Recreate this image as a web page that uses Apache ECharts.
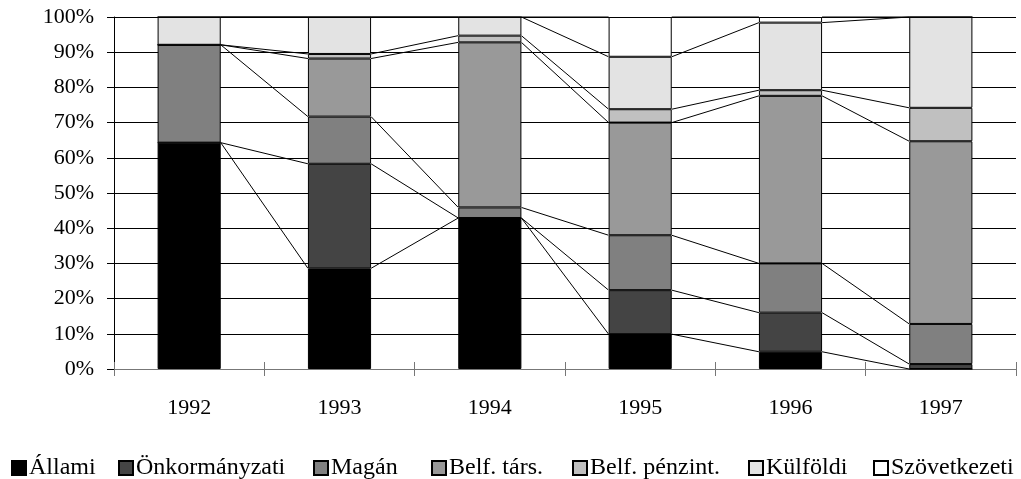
<!DOCTYPE html>
<html>
<head>
<meta charset="utf-8">
<script src="https://cdn.jsdelivr.net/npm/echarts@6/dist/echarts.min.js"></script>
<style>
html,body{margin:0;padding:0;background:#fff;}
#chart{width:1021px;height:479px;}
</style>
</head>
<body>
<div id="chart"></div>
<script>
// ---- data ----
const categories = ['1992', '1993', '1994', '1995', '1996', '1997'];
const seriesNames = ['Állami', 'Önkormányzati', 'Magán', 'Belf. társ.', 'Belf. pénzint.', 'Külföldi', 'Szövetkezeti'];
const allami        = [64.3, 28.6, 42.9,  9.9,  4.9,  0.0];
const onkormanyzati = [ 0.0, 29.7,  0.0, 12.5, 11.1,  1.4];
const magan         = [27.8, 13.4,  3.0, 15.6, 14.0, 11.4];
const belfTars      = [ 0.0, 16.5, 46.9, 32.0, 47.6, 51.9];
const belfPenzint   = [ 0.0,  1.3,  1.9,  3.8,  1.6,  9.5];
const kulfoldi      = [ 7.9, 10.5,  5.3, 14.9, 19.2, 25.8];
const szovetkezeti  = [ 0.0,  0.0,  0.0, 11.3,  1.6,  0.0];
const yTicks = [0, 10, 20, 30, 40, 50, 60, 70, 80, 90, 100];

// ---- build ----
const values = [allami, onkormanyzati, magan, belfTars, belfPenzint, kulfoldi, szovetkezeti];
const colors = ['#000000', '#444444', '#808080', '#999999', '#c0c0c0', '#e3e3e3', '#ffffff'];
const legendLeft = [11, 118, 313, 431, 572, 748, 873];
const BAR_FRAC = 0.42;
const FONT = 'Liberation Serif';

// cumulative tops
const cum = values.map(() => []);
for (let i = 0; i < categories.length; i++) {
  let acc = 0;
  for (let s = 0; s < values.length; s++) {
    acc += values[s][i];
    cum[s][i] = Math.round(acc * 100) / 100;
  }
}
const connectors = [];
for (let s = 0; s < values.length; s++) {
  for (let i = 0; i < categories.length - 1; i++) {
    connectors.push([i, cum[s][i], cum[s][i + 1]]);
  }
}

const series = seriesNames.map((n, s) => ({
  name: n,
  type: 'bar',
  stack: 'total',
  barWidth: (BAR_FRAC * 100) + '%',
  data: values[s],
  itemStyle: { color: colors[s], borderColor: '#000', borderWidth: 1 },
  emphasis: { disabled: true },
  z: 3
}));
series.push({
  name: 'connectors',
  type: 'custom',
  data: connectors,
  encode: { x: 0, y: [1, 2] },
  z: 4,
  silent: true,
  renderItem: function (params, api) {
    const i = api.value(0);
    const p1 = api.coord([i, api.value(1)]);
    const p2 = api.coord([i + 1, api.value(2)]);
    const hw = api.size([1, 0])[0] * BAR_FRAC / 2;
    return {
      type: 'line',
      shape: { x1: p1[0] + hw, y1: p1[1], x2: p2[0] - hw, y2: p2[1] },
      style: { stroke: '#000', lineWidth: 1 }
    };
  }
});

const option = {
  animation: false,
  backgroundColor: '#fff',
  grid: { left: 114, right: 5, top: 17, bottom: 110, containLabel: false },
  legend: seriesNames.map((n, k) => ({
    data: [n],
    left: legendLeft[k],
    top: 456,
    icon: 'rect',
    itemWidth: 14,
    itemHeight: 14,
    itemGap: 0,
    padding: 0,
    textStyle: { fontFamily: FONT, fontSize: 24, color: '#000', padding: [0, 0, 0, -2] },
    selectedMode: false
  })),
  xAxis: [{
    type: 'category',
    data: categories,
    axisLine: { lineStyle: { color: '#777', width: 1 } },
    axisTick: { show: true, length: 7, lineStyle: { color: '#777' } },
    axisLabel: { fontFamily: FONT, fontSize: 22, color: '#000', margin: 28 },
    splitLine: { show: false }
  }, {
    type: 'category',
    data: categories,
    position: 'bottom',
    axisLine: { show: false },
    axisTick: { show: true, inside: true, length: 7, lineStyle: { color: '#777' } },
    axisLabel: { show: false },
    splitLine: { show: false }
  }],
  yAxis: {
    type: 'value',
    min: yTicks[0],
    max: yTicks[yTicks.length - 1],
    interval: yTicks[1] - yTicks[0],
    axisLine: { show: true, lineStyle: { color: '#000', width: 1 } },
    axisTick: { show: true, length: 7, lineStyle: { color: '#000' } },
    axisLabel: { fontFamily: FONT, fontSize: 22, color: '#000', margin: 20, formatter: '{value}%' },
    splitLine: { show: true, lineStyle: { color: '#000', width: 1 } }
  },
  series: series
};

const chart = echarts.init(document.getElementById('chart'), null, { renderer: 'canvas' });
chart.setOption(option);
</script>
</body>
</html>
